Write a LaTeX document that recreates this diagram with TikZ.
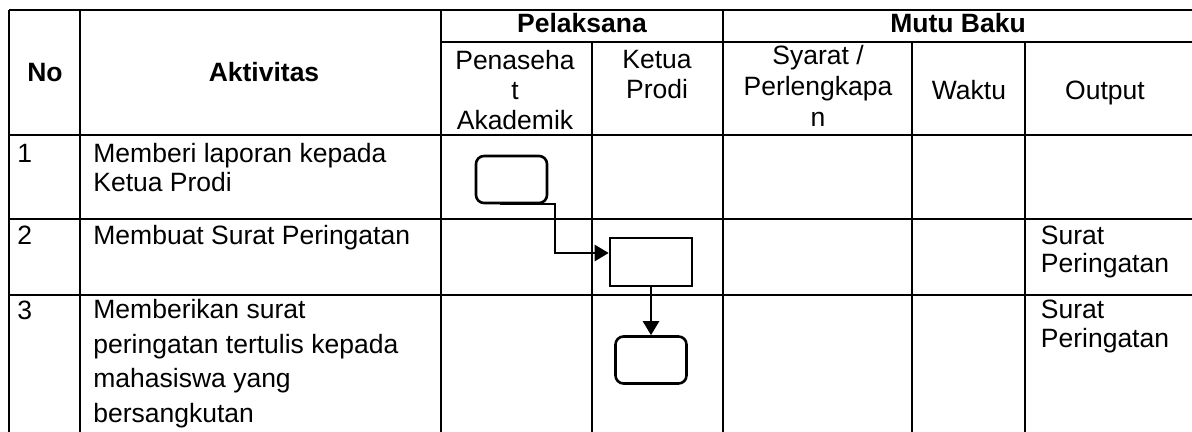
\documentclass[tikz,border=0pt]{standalone}
\usepackage{fontspec}
\setmainfont{Liberation Sans}
\usetikzlibrary{arrows.meta, positioning}

\begin{document}
\begin{tikzpicture}[x=0.5pt, y=-0.5pt,
  grid/.style={line width=1.3pt},
  cell/.style={inner sep=0pt, font=\fontsize{13.25}{14.5}\selectfont},
  headcell/.style={cell, font=\fontsize{13.25}{14.5}\selectfont\bfseries},
  stepbox/.style={draw, line width=1.3pt, rounded corners=4pt, inner sep=0pt,
    minimum width=35.5pt, minimum height=23.5pt},
  procbox/.style={draw, line width=1.3pt, inner sep=0pt,
    minimum width=41pt, minimum height=24pt},
  flow/.style={line width=1.2pt, -{Triangle[length=7pt,width=8pt]}}
]
\useasboundingbox (0,0) rectangle (1192,432);

% table lines
\foreach \y in {10,135,219,295} \draw[grid] (9,\y) -- (1192,\y);
\draw[grid] (441,42) -- (1192,42);
\foreach \x in {9,80,441,723} \draw[grid] (\x,10) -- (\x,432);
\foreach \x in {592,912,1025} \draw[grid] (\x,42) -- (\x,432);

% header
\node[headcell, anchor=base] (hno) at (45,81.5) {No};
\node[headcell, anchor=base] (hakt) at (264,81.5) {Aktivitas};
\node[headcell, anchor=base] (hpel) at (582,33) {Pelaksana};
\node[headcell, anchor=base] (hmutu) at (958,33) {Mutu Baku};
\node[cell, anchor=north, align=center, font=\fontsize{13.25}{15}\selectfont] (hpa) at (515,50) {Penaseha\\t\\Akademik};
\node[cell, anchor=north, align=center, font=\fontsize{13.25}{15}\selectfont] (hkp) at (657,50) {Ketua\\Prodi};
\node[cell, anchor=north, align=center, font=\fontsize{13.25}{15.5}\selectfont] (hsyr) at (818,45) {Syarat /\\Perlengkapa\\n};
\node[cell, anchor=base] (hwkt) at (969,100) {Waktu};
\node[cell, anchor=base] (hout) at (1105,100) {Output};

% rows
\node[cell, anchor=base west] (n1) at (17,163) {1};
\node[cell, anchor=north west, align=left] (a1) at (93,142.7) {Memberi laporan kepada\\Ketua Prodi};
\node[cell, anchor=base west] (n2) at (17,245) {2};
\node[cell, anchor=base west] (a2) at (93,245) {Membuat Surat Peringatan};
\node[cell, anchor=north west, align=left, font=\fontsize{13.25}{14}\selectfont] (o2) at (1040.5,225.4) {Surat\\Peringatan};
\node[cell, anchor=base west] (n3) at (17,320) {3};
\node[cell, anchor=north west, align=left, font=\fontsize{13.25}{17.25}\selectfont] (a3) at (93,299) {Memberikan surat\\peringatan tertulis kepada\\mahasiswa yang\\bersangkutan};
\node[cell, anchor=north west, align=left] (o3) at (1040.5,299.5) {Surat\\Peringatan};

% flow
\node[stepbox] (box1) at (511.5,179.5) {};
\node[procbox] (box2) at (651,262) {};
\node[stepbox] (box3) at (651,360) {};

\draw[flow] ([xshift=-5.75pt]box1.south) -- ++(55,0) |- ([yshift=4.5pt]box2.west);
\draw[flow] (box2) -- (box3);
\end{tikzpicture}
\end{document}
